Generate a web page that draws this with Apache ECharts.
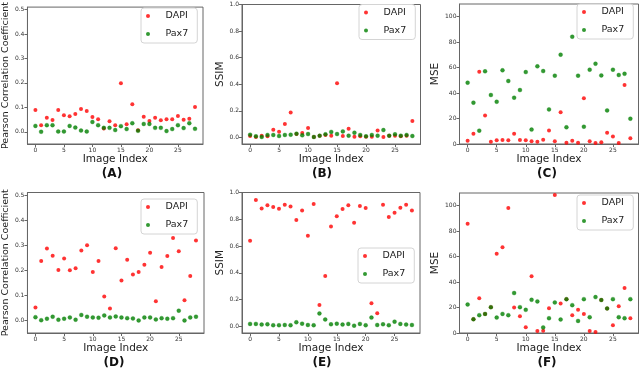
<!DOCTYPE html>
<html><head><meta charset="utf-8">
<script src="https://cdn.jsdelivr.net/npm/echarts@6/dist/echarts.min.js"></script>
<style>html,body{margin:0;padding:0;background:#fff}#c{width:640px;height:370px}</style>
</head><body><div id="c"></div><script>
// ---- data ----
const imageIndex = [0,1,2,3,4,5,6,7,8,9,10,11,12,13,14,15,16,17,18,19,20,21,22,23,24,25,26,27,28];
const xTicks = [0,5,10,15,20,25];
const pccTicks = [0,0.1,0.2,0.3,0.4,0.5];
const ssimTicks = [0,0.2,0.4,0.6,0.8,1.0];
const mseTicks = [0,20,40,60,80,100];
const seriesNames = ['DAPI','Pax7'];
const panelLabels = ['(A)','(B)','(C)','(D)','(E)','(F)'];
const yNames = ['Pearson Correlation Coefficient','SSIM','MSE','Pearson Correlation Coefficient','SSIM','MSE'];

const pccDapiA = [0.089,0.027,0.057,0.048,0.089,0.068,0.064,0.073,0.093,0.085,0.060,0.051,0.013,0.043,0.027,0.199,0.031,0.113,0.006,0.061,0.044,0.057,0.047,0.051,0.051,0.065,0.049,0.053,0.101];
const pccPax7A = [0.024,0.000,0.027,0.027,0.001,0.001,0.024,0.017,0.005,0.001,0.040,0.027,0.016,0.016,0.007,0.023,0.011,0.035,0.004,0.032,0.032,0.016,0.016,0.003,0.011,0.027,0.015,0.035,0.012];
const ssimDapiB = [0.010,0.002,0.013,0.008,0.058,0.043,0.101,0.187,0.025,0.033,0.071,0.003,0.013,0.018,0.013,0.407,0.010,0.064,0.005,0.008,0.005,0.005,0.051,0.003,0.013,0.013,0.008,0.013,0.124];
const ssimPax7B = [0.020,0.008,0.003,0.018,0.018,0.010,0.018,0.020,0.028,0.015,0.025,0.003,0.013,0.023,0.041,0.025,0.045,0.013,0.035,0.018,0.008,0.018,0.013,0.055,0.013,0.023,0.013,0.018,0.010];
const mseDapiC = [2.6,8.1,56.8,22.3,1.8,2.9,3.1,2.9,8.1,3.1,2.9,2.1,1.8,3.4,10.7,2.1,24.9,1.0,2.6,1.0,35.9,2.1,0.8,1.3,8.9,5.8,0.8,46.3,4.5];
const msePax7C = [48.2,32.5,10.5,57.1,38.5,33.2,57.9,49.5,36.4,42.4,56.5,11.3,61.0,57.3,27.2,53.7,70.2,13.1,84.3,53.7,13.6,58.4,63.1,53.9,26.4,58.4,54.2,55.2,19.9];
const pccDapiD = [0.052,0.237,0.287,0.258,0.201,0.247,0.200,0.208,0.279,0.300,0.193,0.237,0.095,0.048,0.288,0.159,0.242,0.183,0.193,0.222,0.270,0.077,0.213,0.257,0.329,0.276,0.081,0.177,0.319];
const pccPax7D = [0.013,0.001,0.007,0.015,0.003,0.007,0.012,0.003,0.022,0.015,0.012,0.011,0.020,0.012,0.016,0.012,0.009,0.008,0.000,0.012,0.012,0.004,0.009,0.007,0.009,0.039,0.000,0.012,0.015];
const ssimDapiE = [0.639,0.944,0.881,0.904,0.891,0.879,0.909,0.896,0.795,0.866,0.677,0.914,0.159,0.376,0.745,0.823,0.876,0.904,0.773,0.899,0.884,0.172,0.098,0.909,0.816,0.848,0.886,0.909,0.866];
const ssimPax7E = [0.018,0.018,0.013,0.015,0.008,0.008,0.010,0.008,0.030,0.020,0.010,0.008,0.096,0.051,0.015,0.020,0.013,0.018,0.005,0.018,0.008,0.065,0.010,0.015,0.008,0.035,0.018,0.013,0.010];
const mseDapiF = [85.8,10.8,27.4,15.0,20.3,62.3,67.3,98.2,20.0,13.2,4.5,44.6,1.6,1.8,19.5,108.4,23.2,26.6,14.0,18.2,15.0,1.6,0.8,25.9,19.3,6.1,21.1,35.4,11.6];
const msePax7F = [22.4,10.8,14.0,15.0,20.3,12.1,15.0,14.0,31.4,20.3,18.2,26.1,24.8,4.4,11.6,24.0,10.6,26.6,21.9,9.5,26.6,12.4,28.2,25.9,19.3,26.6,12.4,11.6,26.6];

// ---- layout ----
const FONT = 'DejaVu Sans';
const panels = [
  {grid:{left:23,top:4.5,width:180,height:139.5}, yMin:-0.05, yMax:0.51, ticks:pccTicks, dec:1, nameGap:13, nameSize:9.5, dapi:pccDapiA, pax7:pccPax7A, lab:[112,174], leg:[141,8]},
  {grid:{left:242,top:4.5,width:178.5,height:139.5}, yMin:-0.05, yMax:1.0, ticks:ssimTicks, dec:1, nameGap:14, nameSize:10.5, dapi:ssimDapiB, pax7:ssimPax7B, lab:[322,174], leg:[359,4.5]},
  {grid:{left:459.5,top:4,width:179,height:140}, yMin:0, yMax:110, ticks:mseTicks, dec:0, nameGap:15, nameSize:10.5, dapi:mseDapiC, pax7:msePax7C, lab:[547,174], leg:[577,4]},
  {grid:{left:24,top:192.5,width:180,height:140.5}, yMin:-0.05, yMax:0.51, ticks:pccTicks, dec:1, nameGap:14, nameSize:9.5, dapi:pccDapiD, pax7:pccPax7D, lab:[114,363], leg:[141,199]},
  {grid:{left:242,top:192.5,width:178,height:140.5}, yMin:-0.05, yMax:1.0, ticks:ssimTicks, dec:1, nameGap:14, nameSize:10.5, dapi:ssimDapiE, pax7:ssimPax7E, lab:[322,363], leg:[358,248]},
  {grid:{left:459.5,top:193,width:179,height:140}, yMin:0, yMax:110, ticks:mseTicks, dec:0, nameGap:15, nameSize:10.5, dapi:mseDapiF, pax7:msePax7F, lab:[547,363], leg:[577,195]}
];

const AX = '#666';
const option = {
  animation:false,
  backgroundColor:'#fff',
  grid:[], xAxis:[], yAxis:[], series:[], legend:[], graphic:[]
};
panels.forEach((p,i)=>{
  option.grid.push(Object.assign({show:true, borderColor:AX, borderWidth:1, backgroundColor:'transparent'}, p.grid));
  option.xAxis.push({
    gridIndex:i, type:'value', min:-1.4, max:29.4,
    name:'Image Index', nameLocation:'middle', nameGap:8,
    nameTextStyle:{fontSize:10.5, color:'#222', fontFamily:FONT},
    axisLine:{show:true, onZero:false, lineStyle:{color:AX, width:1}},
    axisTick:{show:true, length:3, customValues:xTicks, lineStyle:{color:AX}},
    axisLabel:{customValues:xTicks, fontSize:6, color:'#333', margin:3, fontFamily:FONT},
    splitLine:{show:false}
  });
  option.yAxis.push({
    gridIndex:i, type:'value', min:p.yMin, max:p.yMax,
    name:yNames[i], nameLocation:'middle', nameGap:p.nameGap,
    nameTextStyle:{fontSize:p.nameSize, color:'#222', fontFamily:FONT},
    axisLine:{show:true, onZero:false, lineStyle:{color:AX, width:1}},
    axisTick:{show:true, length:3, customValues:p.ticks, lineStyle:{color:AX}},
    axisLabel:{customValues:p.ticks, fontSize:6, color:'#333', margin:3, fontFamily:FONT,
      formatter:(v)=>Number(v).toFixed(p.dec)},
    splitLine:{show:false}
  });
  option.series.push({
    type:'scatter', name:seriesNames[0], xAxisIndex:i, yAxisIndex:i,
    data:imageIndex.map((x,k)=>[x,p.dapi[k]]), symbolSize:4,
    itemStyle:{color:'#ff0000'}, z:2
  });
  option.series.push({
    type:'scatter', name:seriesNames[1], xAxisIndex:i, yAxisIndex:i,
    data:imageIndex.map((x,k)=>[x,p.pax7[k]]), symbolSize:4,
    itemStyle:{color:'#008000', borderColor:'#008000', borderWidth:0.35}, z:3
  });
  option.legend.push({
    data:seriesNames, orient:'vertical', left:p.leg[0], top:p.leg[1],
    icon:'circle', itemWidth:15, itemHeight:4, itemGap:8,
    padding:[3,9,4,5], borderColor:'#d4d4d4', borderWidth:1, borderRadius:3,
    backgroundColor:'rgba(255,255,255,0.8)', selectedMode:false,
    itemStyle:{borderWidth:0},
    textStyle:{fontSize:9.5, color:'#222', fontFamily:FONT, padding:[0,0,0,5]}
  });
  option.graphic.push({
    type:'text', x:p.lab[0], y:p.lab[1],
    style:{text:panelLabels[i], fontSize:12, fontWeight:'bold', fontFamily:FONT, fill:'#111',
      align:'center', verticalAlign:'middle'}
  });
});
const chart = echarts.init(document.getElementById('c'), null, {renderer:'canvas'});
chart.setOption(option);
</script></body></html>
